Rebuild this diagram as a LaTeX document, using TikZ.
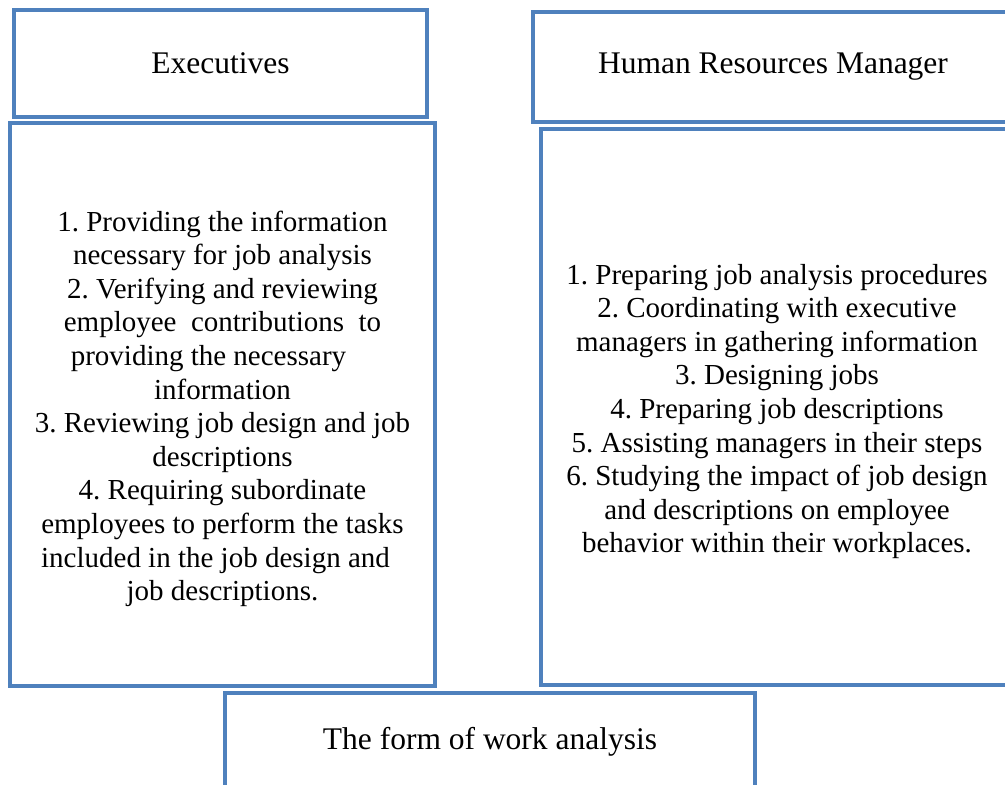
\documentclass[tikz,border=0pt]{standalone}
\usepackage{fontspec}
\setmainfont{Liberation Serif}
\frenchspacing
\definecolor{boxblue}{HTML}{4F81BD}
\tikzset{
    box/.style={rectangle,draw=boxblue,line width=3.8pt,inner sep=0pt},
    heading/.style={box,font=\fontsize{31.5}{36}\selectfont},
    items/.style={box,align=center,font=\fontsize{29}{33.6}\selectfont}
}

\begin{document}
\begin{tikzpicture}[x=1pt,y=-1pt]
\useasboundingbox (0,0) rectangle (1005,785);
\clip (0,0) rectangle (1005,785);

\node[heading,minimum width=413pt,minimum height=107pt] (exec) at (220.5,63.5) {Executives};
\node[heading,minimum width=480pt,minimum height=110pt] (hr) at (773,67) {Human Resources Manager};

\node[items,minimum width=425pt,minimum height=563pt] (execlist) at (222.5,404.5) {%
\rule{0pt}{29pt}1. Providing the information\\
necessary for job analysis\\
2. Verifying and reviewing\\
employee \ contributions \ to\\
providing the necessary\hspace{28pt}\mbox{}\\
information\\
3. Reviewing job design and job\\
descriptions\\
4. Requiring subordinate\\
employees to perform the tasks\\
included in the job design and\hspace{14pt}\mbox{}\\
job descriptions.};

\node[items,minimum width=472pt,minimum height=556pt] (hrlist) at (777,407) {%
\rule{0pt}{29pt}1. Preparing job analysis procedures\\
2. Coordinating with executive\\
managers in gathering information\\
3. Designing jobs\\
4. Preparing job descriptions\\
5. Assisting managers in their steps\\
6. Studying the impact of job design\\
and descriptions on employee\\
behavior within their workplaces.};

\node[heading,minimum width=530pt,minimum height=98pt] (form) at (490,742) {The form of work analysis};

\end{tikzpicture}
\end{document}
